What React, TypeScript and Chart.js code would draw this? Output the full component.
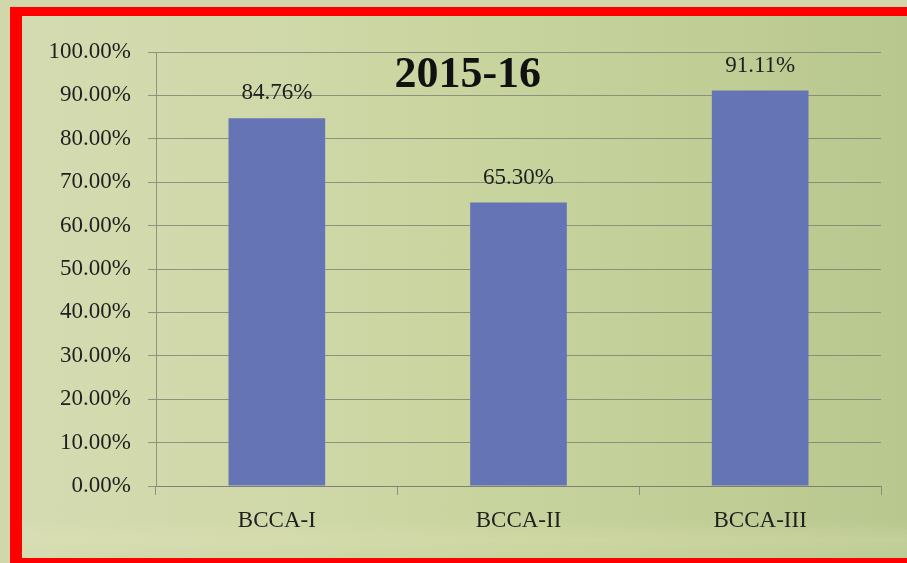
import React, { useEffect, useRef } from "react";
import { Chart, registerables } from "chart.js";

Chart.register(...registerables);

const categories = ["BCCA-I", "BCCA-II", "BCCA-III"];
const values = [84.76, 65.3, 91.11];
const yMin = 0;
const yMax = 100;
const yStep = 10;
const chartTitle = "2015-16";

const FONT = "'Liberation Serif', 'Times New Roman', serif";
const BAR_COLOR = "#6574b5";
const GRID_COLOR = "rgba(120,122,115,0.75)";

export default function App() {
  const ref = useRef<HTMLCanvasElement>(null);

  useEffect(() => {
    if (!ref.current) return;

    const labelPlugin = {
      id: "valueLabels",
      afterDatasetsDraw(chart: any) {
        const ctx = chart.ctx;
        const meta = chart.getDatasetMeta(0);
        ctx.save();
        ctx.font = `23px ${FONT}`;
        ctx.fillStyle = "#1f1f1f";
        ctx.textAlign = "center";
        ctx.textBaseline = "alphabetic";
        meta.data.forEach((bar: any, i: number) => {
          ctx.fillText(values[i].toFixed(2) + "%", bar.x, bar.y - 19);
        });
        const a = chart.chartArea;
        ctx.font = `bold 44px ${FONT}`;
        ctx.fillStyle = "#111111";
        ctx.fillText(chartTitle, a.left + (a.right - a.left) * 0.43, a.top + 35);
        ctx.restore();
      },
    };

    const chart = new Chart(ref.current, {
      type: "bar",
      data: {
        labels: categories,
        datasets: [
          {
            data: values,
            backgroundColor: BAR_COLOR,
            borderWidth: 0,
            barPercentage: 0.4,
            categoryPercentage: 1,
          },
        ],
      },
      options: {
        responsive: false,
        animation: false,
        layout: { padding: { top: 52, right: 26, bottom: 0, left: 0 } },
        plugins: {
          legend: { display: false },
          title: { display: false },
          tooltip: { enabled: false },
        },
        scales: {
          x: {
            grid: {
              offset: true,
              drawOnChartArea: false,
              drawTicks: true,
              tickLength: 9,
              color: GRID_COLOR,
              lineWidth: 1,
            },
            border: { color: GRID_COLOR, width: 1 },
            ticks: {
              padding: 12,
              color: "#1f1f1f",
              font: { family: FONT, size: 23 },
            },
            afterFit(scale: any) {
              scale.height = 77;
            },
          },
          y: {
            min: yMin,
            max: yMax,
            grid: {
              color: GRID_COLOR,
              lineWidth: 1,
              tickLength: 8,
            },
            border: { color: GRID_COLOR, width: 1 },
            ticks: {
              stepSize: yStep,
              padding: 17,
              color: "#1f1f1f",
              font: { family: FONT, size: 23 },
              callback: (v: any) => Number(v).toFixed(2) + "%",
            },
            afterFit(scale: any) {
              scale.width = 156;
            },
          },
        },
      },
      plugins: [labelPlugin],
    });

    return () => chart.destroy();
  }, []);

  return (
    <div
      style={{
        position: "fixed",
        left: 0,
        top: 0,
        width: 907,
        height: 563,
        overflow: "hidden",
        background: "#d1d7ab",
      }}
    >
      <div
        style={{
          position: "absolute",
          left: 10,
          top: 7,
          width: 920,
          height: 556,
          boxSizing: "border-box",
          borderStyle: "solid",
          borderColor: "#ff0000",
          borderWidth: "9px 0 5px 12px",
          background:
            "linear-gradient(180deg, rgba(255,255,255,0) 0%, rgba(255,255,255,0) 93%, rgba(232,228,186,0.25) 96.5%, rgba(205,222,172,0.2) 100%), linear-gradient(90deg, #d5dbb1 0%, #cfd8a8 30%, #c7d39c 55%, #bfcc94 80%, #b6c78e 100%)",
        }}
      />
      <canvas
        ref={ref}
        width={907}
        height={563}
        style={{ position: "absolute", left: 0, top: 0, width: 907, height: 563 }}
      />
    </div>
  );
}
